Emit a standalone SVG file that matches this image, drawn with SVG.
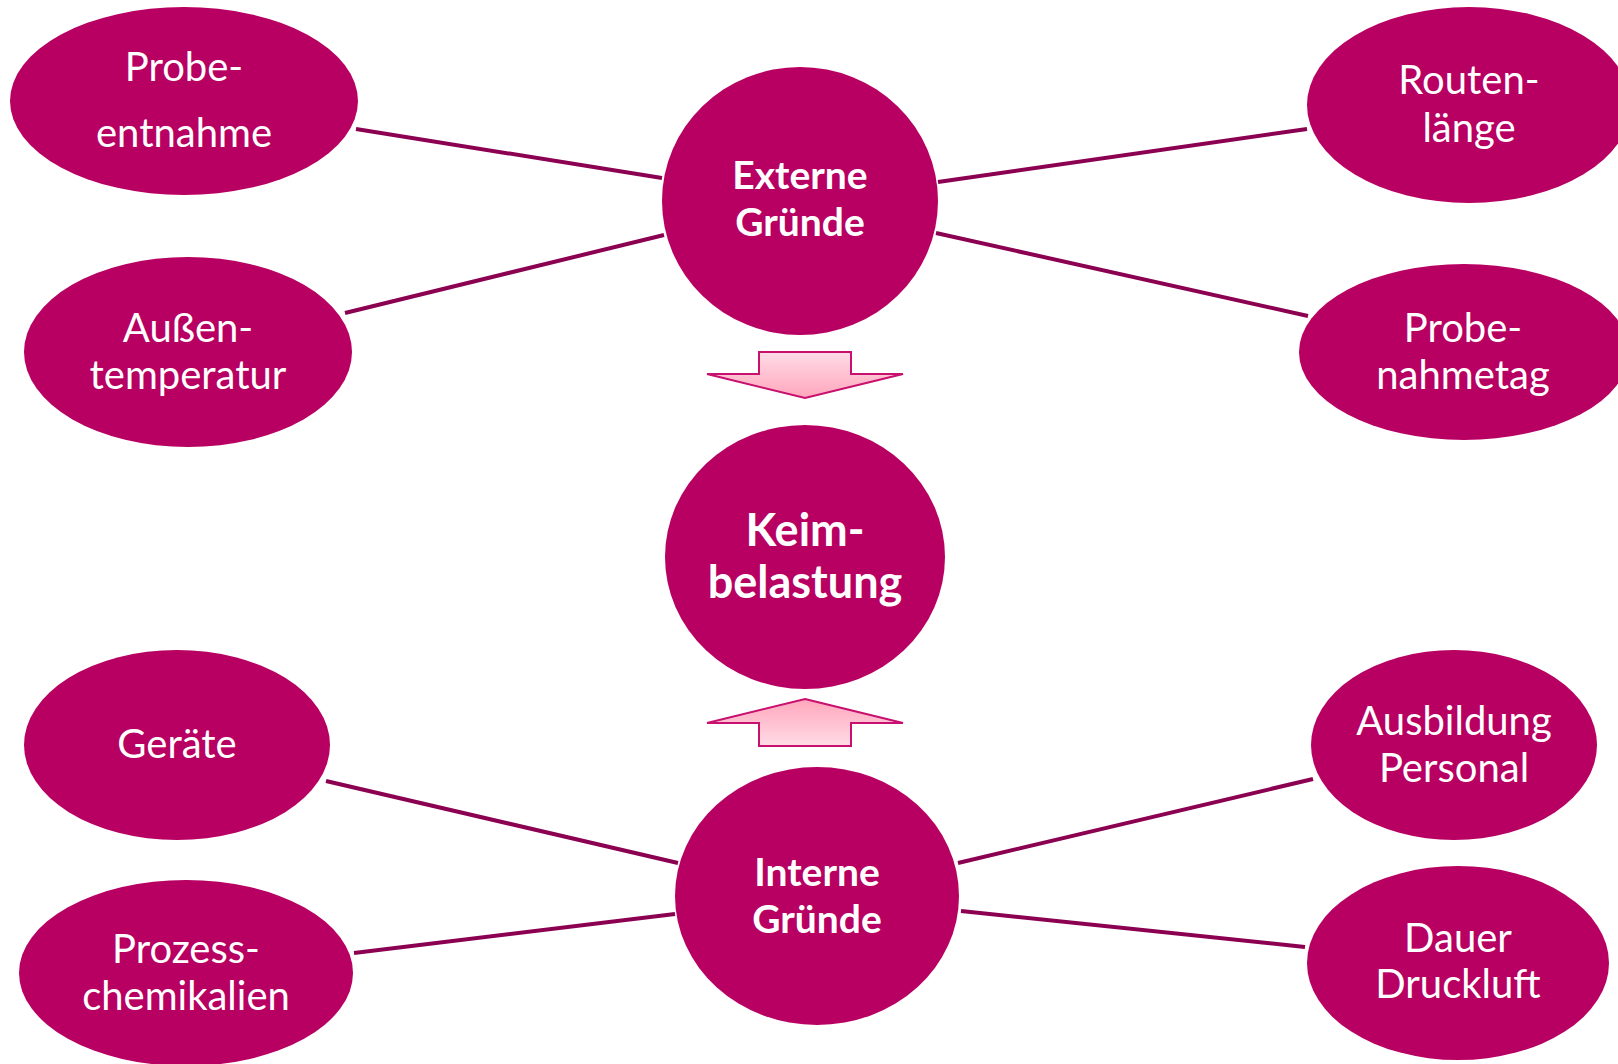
<svg xmlns="http://www.w3.org/2000/svg" width="1618" height="1064" viewBox="0 0 1618 1064">
<defs>
<style>
.node{fill:#B80062;}
.t{font-family:Lato,"Liberation Sans",sans-serif;font-size:40px;fill:#ffffff;text-anchor:middle;}
.b{font-family:Lato,"Liberation Sans",sans-serif;font-weight:bold;font-size:39px;fill:#ffffff;text-anchor:middle;}
.bk{font-family:Lato,"Liberation Sans",sans-serif;font-weight:bold;font-size:45px;fill:#ffffff;text-anchor:middle;}
.conn{stroke:#8C0052;stroke-width:4;fill:none;}
.arrow{stroke:#C8106E;stroke-width:2;stroke-linejoin:miter;}
</style>
<linearGradient id="gDown" x1="0" y1="0" x2="0" y2="1">
<stop offset="0" stop-color="#FFDCE6"/>
<stop offset="1" stop-color="#FFA6BC"/>
</linearGradient>
<linearGradient id="gUp" x1="0" y1="0" x2="0" y2="1">
<stop offset="0" stop-color="#FFA6BC"/>
<stop offset="1" stop-color="#FFDCE6"/>
</linearGradient>
</defs>
<rect width="1618" height="1064" fill="#ffffff"/>
<g id="connectors">
<line class="conn" x1="356" y1="129" x2="662" y2="178"/>
<line class="conn" x1="345" y1="313" x2="664" y2="235"/>
<line class="conn" x1="938" y1="182" x2="1307" y2="129"/>
<line class="conn" x1="936" y1="233" x2="1308" y2="316"/>
<line class="conn" x1="326" y1="781" x2="678" y2="863"/>
<line class="conn" x1="354" y1="953" x2="675" y2="914"/>
<line class="conn" x1="958" y1="863" x2="1313" y2="779"/>
<line class="conn" x1="961" y1="911" x2="1305" y2="947"/>
</g>
<g id="arrow-down">
<polygon class="arrow" fill="url(#gDown)" points="759,352 851,352 851,374 903,374 805,398 707,374 759,374"/>
</g>
<g id="arrow-up">
<polygon class="arrow" fill="url(#gUp)" points="805,699 903,723 851,723 851,746 759,746 759,723 707,723"/>
</g>
<g id="node-probeentnahme">
<ellipse class="node" cx="184" cy="101" rx="174" ry="94"/>
<text class="t" x="184" y="81">Probe-</text>
<text class="t" x="184" y="147">entnahme</text>
</g>
<g id="node-aussentemperatur">
<ellipse class="node" cx="188" cy="352" rx="164" ry="95"/>
<text class="t" x="188" y="342">Außen-</text>
<text class="t" x="188" y="389">temperatur</text>
</g>
<g id="node-externe">
<ellipse class="node" cx="800" cy="201" rx="138" ry="134"/>
<text class="b" x="800" y="189">Externe</text>
<text class="b" x="800" y="236">Gründe</text>
</g>
<g id="node-routenlaenge">
<ellipse class="node" cx="1469" cy="105" rx="162" ry="98"/>
<text class="t" x="1469" y="94">Routen-</text>
<text class="t" x="1469" y="142">länge</text>
</g>
<g id="node-probenahmetag">
<ellipse class="node" cx="1464" cy="352" rx="165" ry="88"/>
<text class="t" x="1463" y="342">Probe-</text>
<text class="t" x="1463" y="389">nahmetag</text>
</g>
<g id="node-keimbelastung">
<ellipse class="node" cx="805" cy="557" rx="140" ry="132"/>
<text class="bk" x="805" y="546">Keim-</text>
<text class="bk" x="805" y="598">belastung</text>
</g>
<g id="node-geraete">
<ellipse class="node" cx="177" cy="745" rx="153" ry="95"/>
<text class="t" x="177" y="758">Geräte</text>
</g>
<g id="node-prozesschemikalien">
<ellipse class="node" cx="186" cy="973" rx="167" ry="93"/>
<text class="t" x="186" y="963">Prozess-</text>
<text class="t" x="186" y="1010">chemikalien</text>
</g>
<g id="node-interne">
<ellipse class="node" cx="817" cy="896" rx="142" ry="129"/>
<text class="b" x="817" y="886">Interne</text>
<text class="b" x="817" y="933">Gründe</text>
</g>
<g id="node-ausbildung">
<ellipse class="node" cx="1454" cy="745" rx="143" ry="95"/>
<text class="t" x="1454" y="735">Ausbildung</text>
<text class="t" x="1454" y="782">Personal</text>
</g>
<g id="node-druckluft">
<ellipse class="node" cx="1458" cy="963" rx="151" ry="97"/>
<text class="t" x="1458" y="952">Dauer</text>
<text class="t" x="1458" y="998">Druckluft</text>
</g>
</svg>
